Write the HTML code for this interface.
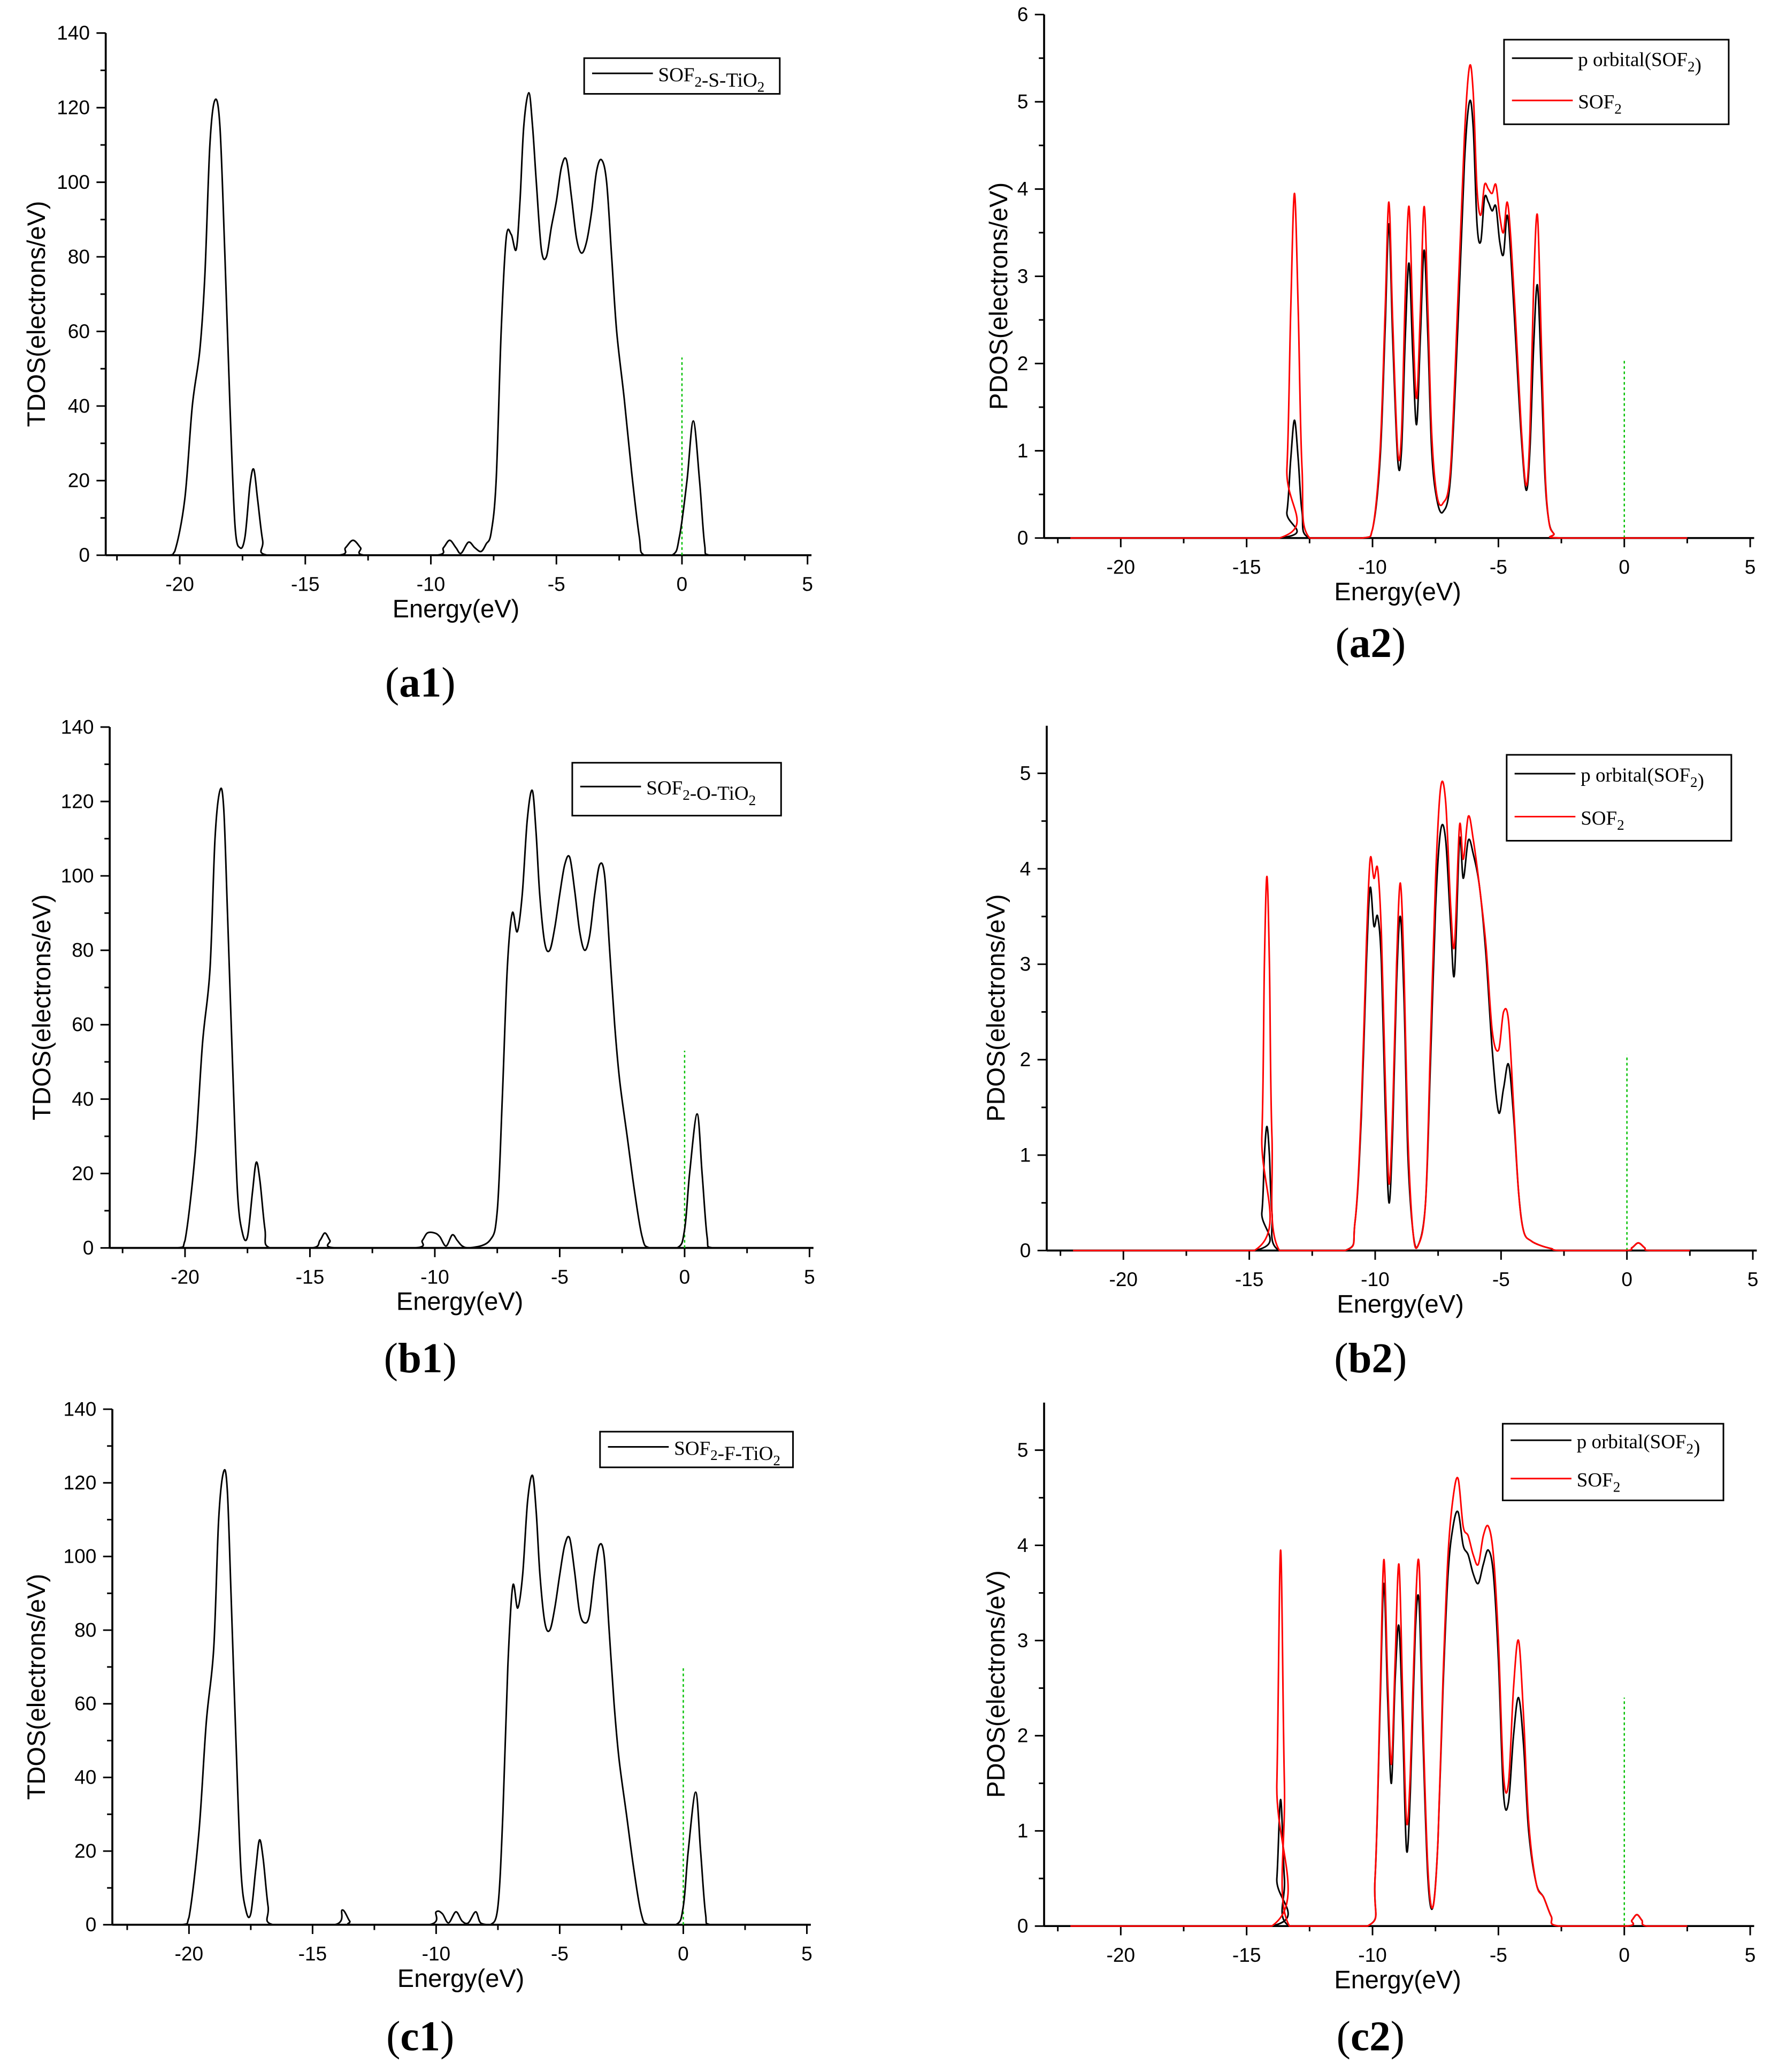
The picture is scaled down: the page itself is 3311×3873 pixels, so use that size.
<!DOCTYPE html>
<html><head><meta charset="utf-8"><style>
html,body{margin:0;padding:0;background:#fff;}
svg{display:block;}
text{font-family:"Liberation Sans",sans-serif;}
.serif{font-family:"Liberation Serif",serif;}
</style></head><body>
<svg id="fig" width="3311" height="3873" viewBox="0 0 1340 1567.4" preserveAspectRatio="none" xmlns="http://www.w3.org/2000/svg"></svg>
<script>
// ---- data (energies in eV, DOS values) ----
const a1E=[-20.5,-20.2,-19.8,-19.5,-19.2,-19.0,-18.8,-18.6,-18.4,-18.2,-18.0,-17.8,-17.6,-17.4,-17.2,-17.05,-16.9,-16.7,-16.5,-13.7,-13.4,-13.1,-12.8,-12.6,-9.8,-9.5,-9.25,-9.0,-8.8,-8.5,-8.25,-8.0,-7.8,-7.6,-7.4,-7.2,-7.0,-6.8,-6.6,-6.45,-6.3,-6.1,-5.95,-5.8,-5.6,-5.4,-5.2,-5.0,-4.8,-4.6,-4.4,-4.2,-4.0,-3.8,-3.6,-3.4,-3.2,-3.0,-2.8,-2.6,-2.3,-2.0,-1.7,-1.5,-0.4,-0.1,0.2,0.45,0.7,0.9,1.1];
const a1V=[0,1,15,40,55,75,110,122,115,80,40,8,2,5,19,23,15,4,0,0,2,4,2,0,0,2,4,2,0.5,3.5,2,1,3,6,20,60,85,86,82,95,115,124,115,100,82,80,88,95,104,106,96,85,81,84,92,103,106,100,80,60,42,22,5,0,0,5,20,36,20,3,0];
const b1E=[-20.3,-20.0,-19.6,-19.3,-19.0,-18.8,-18.6,-18.45,-18.3,-18.1,-17.9,-17.7,-17.5,-17.3,-17.15,-17.0,-16.8,-16.6,-14.9,-14.6,-14.4,-14.2,-14.0,-10.8,-10.5,-10.3,-10.0,-9.8,-9.55,-9.3,-9.1,-8.9,-8.6,-7.8,-7.5,-7.3,-7.1,-6.9,-6.7,-6.5,-6.3,-6.1,-5.95,-5.8,-5.6,-5.4,-5.2,-5.0,-4.8,-4.6,-4.4,-4.2,-4.0,-3.8,-3.6,-3.4,-3.2,-3.0,-2.8,-2.6,-2.3,-2.0,-1.7,-1.4,-0.3,0.0,0.2,0.5,0.7,0.9,1.1];
const b1V=[0,2,25,55,75,110,123,118,90,50,15,4,3,15,23,18,5,0,0,2,4,2,0,0,2,4,4,3,0.5,3.5,2,0.5,0,2,10,40,75,90,85,95,115,123,112,95,82,80,86,95,103,105,96,85,80,84,95,103,100,80,60,45,30,15,3,0,0,5,20,36,20,3,0];
const c1E=[-20.3,-20.0,-19.6,-19.3,-19.0,-18.8,-18.6,-18.45,-18.3,-18.1,-17.9,-17.7,-17.5,-17.3,-17.15,-17.0,-16.8,-16.6,-14.1,-13.8,-13.5,-13.3,-10.3,-10.0,-9.75,-9.5,-9.2,-8.95,-8.7,-8.4,-8.2,-7.8,-7.5,-7.3,-7.1,-6.9,-6.7,-6.5,-6.3,-6.1,-5.95,-5.8,-5.6,-5.4,-5.2,-5.0,-4.8,-4.6,-4.4,-4.2,-4.0,-3.8,-3.6,-3.4,-3.2,-3.0,-2.8,-2.6,-2.3,-2.0,-1.7,-1.4,-0.3,0.0,0.2,0.5,0.7,0.9,1.1];
const c1V=[0,2,25,55,75,110,123,118,90,50,15,4,3,15,23,18,5,0,0,4,1,0,0,3.5,3,0.5,3.5,1,0.5,3.5,0.5,0,5,30,70,92,86,95,115,122,112,95,82,80,86,95,103,105,96,85,82,84,95,103,100,80,60,45,30,15,3,0,0,5,20,36,20,3,0];

const a2E=[-13.7,-13.4,-13.25,-13.1,-12.95,-12.8,-12.5,-10.4,-10.0,-9.7,-9.5,-9.35,-9.2,-9.0,-8.85,-8.7,-8.55,-8.4,-8.25,-8.1,-7.95,-7.8,-7.65,-7.45,-7.2,-6.9,-6.6,-6.35,-6.15,-6.0,-5.85,-5.7,-5.55,-5.4,-5.25,-5.1,-4.95,-4.8,-4.65,-4.5,-4.3,-4.1,-3.9,-3.75,-3.6,-3.45,-3.3,-3.15,-3.0,-2.8,-2.5];
const a2Red=[0,0.8,2.6,3.95,2.6,0.8,0,0,0.1,1.0,2.6,3.85,2.5,1.0,1.2,2.8,3.8,2.5,1.6,2.6,3.8,2.6,1.2,0.5,0.4,0.8,2.8,4.6,5.4,5.1,4.0,3.7,4.05,4.0,3.95,4.05,3.7,3.5,3.85,3.4,2.4,1.3,0.6,1.2,2.9,3.7,2.3,0.8,0.2,0.05,0];
const a2Blk=[0,0.3,0.9,1.35,0.9,0.3,0,0,0.1,0.9,2.4,3.6,2.3,0.9,1.0,2.3,3.15,2.1,1.3,2.3,3.3,2.3,1.0,0.45,0.3,0.7,2.5,4.3,5.0,4.7,3.6,3.4,3.9,3.85,3.75,3.8,3.4,3.25,3.7,3.2,2.2,1.2,0.55,1.0,2.2,2.9,1.9,0.7,0.2,0.05,0];
const b2E=[-14.8,-14.5,-14.4,-14.3,-14.2,-14.1,-13.8,-11.2,-10.8,-10.55,-10.35,-10.2,-10.05,-9.9,-9.75,-9.6,-9.45,-9.3,-9.15,-9.0,-8.85,-8.7,-8.5,-8.3,-8.0,-7.8,-7.6,-7.4,-7.2,-7.0,-6.85,-6.65,-6.5,-6.3,-6.1,-5.85,-5.6,-5.35,-5.1,-4.9,-4.7,-4.5,-4.3,-4.1,-3.8,-3.4,-3.0,-2.6,-0.1,0.2,0.45,0.7,0.9];
const b2Red=[0,1.2,3.0,3.92,3.0,1.2,0,0,0.3,1.5,3.2,4.1,3.9,4.0,3.3,1.8,0.7,1.5,3.0,3.85,2.9,1.2,0.2,0.05,0.5,2.2,3.9,4.85,4.7,3.6,3.2,4.45,4.1,4.55,4.3,3.8,3.2,2.3,2.1,2.5,2.4,1.5,0.6,0.2,0.1,0.05,0.02,0,0,0.03,0.08,0.03,0];
const b2Blk=[0,0.4,1.0,1.3,1.0,0.4,0,0,0.3,1.4,3.0,3.8,3.4,3.5,3.0,1.5,0.5,1.3,2.8,3.5,2.6,1.0,0.2,0.05,0.5,2.0,3.6,4.4,4.3,3.4,2.9,4.3,3.9,4.3,4.15,3.8,3.1,2.1,1.45,1.7,1.95,1.4,0.6,0.2,0.1,0.05,0.02,0,0,0.03,0.08,0.03,0];
const c2E=[-14.0,-13.8,-13.65,-13.5,-13.3,-10.2,-9.9,-9.7,-9.55,-9.4,-9.25,-9.1,-8.95,-8.8,-8.65,-8.5,-8.3,-8.15,-8.0,-7.8,-7.6,-7.4,-7.2,-7.0,-6.8,-6.6,-6.4,-6.2,-6.0,-5.8,-5.6,-5.4,-5.2,-5.0,-4.8,-4.6,-4.4,-4.2,-4.0,-3.8,-3.5,-3.2,-2.9,-2.6,0.1,0.3,0.5,0.7,0.9];
const c2Red=[0,1.5,3.95,1.5,0,0,0.5,2.4,3.85,2.6,1.7,2.8,3.8,2.4,1.1,1.6,3.3,3.8,2.2,0.6,0.2,0.9,2.6,3.9,4.5,4.7,4.2,4.1,3.9,3.8,4.1,4.2,3.9,3.0,1.6,1.5,2.5,3.0,2.2,1.1,0.45,0.3,0.1,0,0,0.06,0.12,0.06,0];
const c2Blk=[0,0.5,1.33,0.5,0,0,0.5,2.3,3.6,2.4,1.5,2.6,3.15,2.1,0.8,1.4,3.1,3.4,2.0,0.5,0.2,0.9,2.5,3.7,4.2,4.35,4.0,3.9,3.7,3.6,3.8,3.95,3.7,2.8,1.4,1.3,2.0,2.4,1.9,1.0,0.45,0.3,0.1,0,0,0.06,0.12,0.06,0];

const xTickVals=[-20,-15,-10,-5,0,5];
const tdosTicks=[0,20,40,60,80,100,120,140];
const a2Ticks=[0,1,2,3,4,5,6];
const b2Ticks=[0,1,2,3,4,5];

// ---- drawing ----
const svg=document.getElementById('fig');
const NS='http://www.w3.org/2000/svg';
function mk(tag,attrs,parent){const e=document.createElementNS(NS,tag);for(const k in attrs)e.setAttribute(k,attrs[k]);(parent||svg).appendChild(e);return e;}
function txt(s,attrs,parent){const e=mk('text',attrs,parent);e.textContent=s;return e;}

function smoothPath(pts,base){
  let d='M'+pts[0][0].toFixed(2)+','+pts[0][1].toFixed(2);
  for(let i=0;i<pts.length-1;i++){
    const p0=pts[Math.max(0,i-1)],p1=pts[i],p2=pts[i+1],p3=pts[Math.min(pts.length-1,i+2)];
    if(p1[1]>=base-0.01&&p2[1]>=base-0.01){d+=' L'+p2[0].toFixed(2)+','+p2[1].toFixed(2);continue;}
    const c1x=p1[0]+(p2[0]-p0[0])/6,c1y=Math.min(base,p1[1]+(p2[1]-p0[1])/6);
    const c2x=p2[0]-(p3[0]-p1[0])/6,c2y=Math.min(base,p2[1]-(p3[1]-p1[1])/6);
    d+=' C'+c1x.toFixed(2)+','+c1y.toFixed(2)+' '+c2x.toFixed(2)+','+c2y.toFixed(2)+' '+p2[0].toFixed(2)+','+p2[1].toFixed(2);
  }
  return d;
}

function panel(cfg){
  const g=mk('g',{});
  
  
  const X=e=>cfg.x0+e*cfg.sx, Y=v=>cfg.y0-v*cfg.sy;
  const yTop=Y(cfg.ticks[cfg.ticks.length-1])-(cfg.extraTop||0);
  const ya=mk('line',{x1:cfg.ax,y1:yTop,x2:cfg.ax,y2:cfg.y0,stroke:'#000','stroke-width':1.5},g);
  
  const xa=mk('line',{x1:cfg.ax,y1:cfg.y0,x2:X(5)+3,y2:cfg.y0,stroke:'#000','stroke-width':1.5},g);
  
  for(let e=-22.5;e<=5.01;e+=2.5){
    const major=Math.abs(e%5)<0.01;
    mk('line',{x1:X(e),y1:cfg.y0,x2:X(e),y2:cfg.y0+(major?7:4),stroke:'#000','stroke-width':1.2},g);
  }
  xTickVals.forEach(v=>{
    const t=txt(String(v),{x:X(v),y:cfg.y0+27,'font-size':15,'text-anchor':'middle'},g);
    
  });
  const step=cfg.ticks[1]-cfg.ticks[0];
  cfg.ticks.forEach((v,i)=>{
    mk('line',{x1:cfg.ax-7,y1:Y(v),x2:cfg.ax,y2:Y(v),stroke:'#000','stroke-width':1.2},g);
    if(i<cfg.ticks.length-1) mk('line',{x1:cfg.ax-4,y1:Y(v+step/2),x2:cfg.ax,y2:Y(v+step/2),stroke:'#000','stroke-width':1.2},g);
    const t=txt(String(v),{x:cfg.ax-12,y:Y(v)+5,'font-size':15,'text-anchor':'end'},g);
    
  });
  const xt=txt('Energy(eV)',{x:X(-9),y:cfg.y0+47,'font-size':19,'text-anchor':'middle'},g);
  
  const ymid=(yTop+cfg.y0)/2+cfg.ytdy;
  const yt=txt(cfg.ytitle,{x:0,y:0,'font-size':19,'text-anchor':'middle',transform:'translate('+cfg.ytx+','+ymid+') rotate(-90)'},g);
  
  const fl=mk('line',{x1:X(0),y1:cfg.y0,x2:X(0),y2:Y(cfg.fermi),stroke:'#00c000','stroke-width':1,'stroke-dasharray':'2,2'},g);
  
  cfg.series.forEach(s=>{
    const pts=[[X(-22),Y(0)]];
    s.E.forEach((e,i)=>pts.push([X(e),Y(s.V[i])]));
    pts.push([X(2.5),Y(0)]);
    const p=mk('path',{d:smoothPath(pts,Y(0)),fill:'none',stroke:s.color,'stroke-width':1.2},g);
    
  });
  const L=cfg.legend;
  const lg=mk('g',{},g);
  
  mk('rect',{x:L.x,y:L.y,width:L.w,height:L.h,fill:'#fff',stroke:'#000','stroke-width':1.2},lg);
  L.items.forEach((it,i)=>{
    const yy=L.y+(L.h/L.items.length)*(i+0.5);
    mk('line',{x1:L.x+6,y1:yy-2,x2:L.x+52,y2:yy-2,stroke:it.color,'stroke-width':1.2},lg);
    const t=mk('text',{x:L.x+56,y:yy+4,'font-size':15,class:'serif'},lg);
    
    t.innerHTML=it.html;
  });
  const pl=mk('text',{x:cfg.lab[0],y:cfg.lab[1],'font-size':32,'text-anchor':'middle',class:'serif'},g);
  
  pl.innerHTML='(<tspan font-weight="bold">'+cfg.label+'</tspan>)';
}
const sub=s=>'<tspan font-size="11" dy="4">'+s+'</tspan><tspan dy="-4"></tspan>';

panel({name:'panel-a1',ax:80,x0:516,sx:19.0,y0:420,sy:395/140,ticks:tdosTicks,ytitle:'TDOS(electrons/eV)',ytx:34,ytdy:15,fermi:53,
  series:[{E:a1E,V:a1V,color:'#000',name:'tdos-line'}],
  legend:{x:442,y:44,w:148,h:27,items:[{color:'#000',html:'SOF'+sub('2')+'-S-TiO'+sub('2')}]},lab:[318,527],label:'a1'});
panel({name:'panel-a2',ax:790,x0:1229,sx:19.05,y0:407,sy:66,ticks:a2Ticks,ytitle:'PDOS(electrons/eV)',ytx:762,ytdy:15,fermi:2.05,
  series:[{E:a2E,V:a2Blk,color:'#000',name:'p-orbital-line'},{E:a2E,V:a2Red,color:'#ff0000',name:'sof2-line'}],
  legend:{x:1138,y:30,w:170,h:64,items:[{color:'#000',html:'p orbital(SOF'+sub('2')+')'},{color:'#ff0000',html:'SOF'+sub('2')}]},lab:[1037,497],label:'a2'});
panel({name:'panel-b1',ax:83,x0:518,sx:18.9,y0:944,sy:394/140,ticks:tdosTicks,ytitle:'TDOS(electrons/eV)',ytx:38,ytdy:15,fermi:53,
  series:[{E:b1E,V:b1V,color:'#000',name:'tdos-line'}],
  legend:{x:433,y:577,w:158,h:40,items:[{color:'#000',html:'SOF'+sub('2')+'-O-TiO'+sub('2')}]},lab:[318,1038],label:'b1'});
panel({name:'panel-b2',ax:792,x0:1231,sx:19.05,y0:946,sy:72.2,ticks:b2Ticks,ytitle:'PDOS(electrons/eV)',ytx:760,ytdy:15,fermi:2.05,extraTop:36,
  series:[{E:b2E,V:b2Blk,color:'#000',name:'p-orbital-line'},{E:b2E,V:b2Red,color:'#ff0000',name:'sof2-line'}],
  legend:{x:1140,y:571,w:170,h:65,items:[{color:'#000',html:'p orbital(SOF'+sub('2')+')'},{color:'#ff0000',html:'SOF'+sub('2')}]},lab:[1037,1038],label:'b2'});
panel({name:'panel-c1',ax:85,x0:517,sx:18.7,y0:1456,sy:390/140,ticks:tdosTicks,ytitle:'TDOS(electrons/eV)',ytx:34,ytdy:15,fermi:70,
  series:[{E:c1E,V:c1V,color:'#000',name:'tdos-line'}],
  legend:{x:454,y:1083,w:146,h:27,items:[{color:'#000',html:'SOF'+sub('2')+'-F-TiO'+sub('2')}]},lab:[318,1551],label:'c1'});
panel({name:'panel-c2',ax:790,x0:1229,sx:19.05,y0:1457,sy:72,ticks:b2Ticks,ytitle:'PDOS(electrons/eV)',ytx:760,ytdy:15,fermi:2.4,extraTop:36,
  series:[{E:c2E,V:c2Blk,color:'#000',name:'p-orbital-line'},{E:c2E,V:c2Red,color:'#ff0000',name:'sof2-line'}],
  legend:{x:1137,y:1077,w:167,h:58,items:[{color:'#000',html:'p orbital(SOF'+sub('2')+')'},{color:'#ff0000',html:'SOF'+sub('2')}]},lab:[1037,1551],label:'c2'});
</script>
</body></html>
